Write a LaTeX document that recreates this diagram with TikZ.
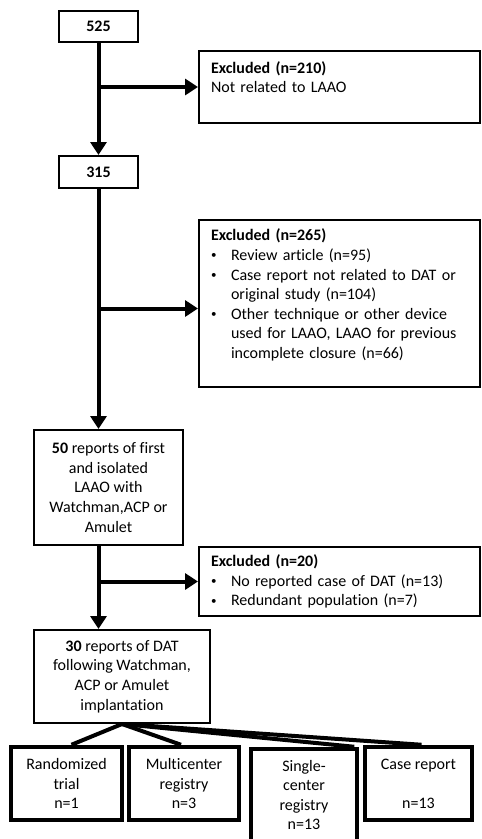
\documentclass[tikz,border=0pt]{standalone}
\usepackage{fontspec}
\setmainfont[Ligatures=NoCommon]{Carlito}
\usepackage{tikz}
\usetikzlibrary{arrows.meta,positioning,calc}
\newcommand{\boxfont}{\fontsize{16}{19.6}\selectfont}
\newcommand{\bul}{\makebox[20pt][l]{\raisebox{1.5pt}{\fontsize{11}{11}\selectfont\textbullet}}}
\newcommand{\bulind}{\hspace*{20pt}}
\tikzset{
  box/.style  ={rectangle, draw=black, line width=2pt, align=center,
                font=\boxfont, inner sep=0pt},
  excl/.style ={rectangle, draw=black, line width=2pt, align=left,
                font=\boxfont, inner xsep=12pt, inner ysep=0pt,
                text width=257pt, minimum width=281pt},
  leaf/.style ={rectangle, draw=black, line width=4.5pt, align=center,
                font=\boxfont, inner sep=0pt},
  fl/.style   ={-{Triangle[length=13pt,width=16pt]}, line width=4pt},
  fan/.style  ={line width=4pt},
}
\begin{document}
\begin{tikzpicture}[x=1pt,y=-1pt]
  \useasboundingbox (0,0) rectangle (482,839);
  % main column
  \node[box,minimum width=79pt,minimum height=31pt] (b525) at (98.5,26.5) {\textbf{525}};
  \node[box,minimum width=79pt,minimum height=32pt] (b315) at (98.5,172) {\textbf{315}};
  \node[box,minimum width=149pt,minimum height=115pt] (b50) at (108.5,487.5)
    {\textbf{50} reports of first\\and isolated\\LAAO with\\Watchman,ACP or\\Amulet};
  \node[box,minimum width=176pt,minimum height=93pt] (b30) at (122,676.5)
    {\textbf{30} reports of DAT\\following Watchman,\\ACP or Amulet\\implantation};
  \coordinate (trunk) at (b315.south);
  % excluded
  \node[excl,minimum height=72pt] (ex1) at (339.5,87)
    {\textbf{Excluded (n=210)}\\Not related to LAAO\\\mbox{}};
  \node[excl,minimum height=167pt] (ex2) at (339.5,303.5)
    {\textbf{Excluded (n=265)}\\
     \bul Review article (n=95)\\
     \bul Case report not related to DAT or\\
     \bulind original study (n=104)\\
     \bul Other technique or other device\\
     \bulind used for LAAO, LAAO for previous\\
     \bulind incomplete closure (n=66)\\\mbox{}};
  \node[excl,minimum height=69pt] (ex3) at (339.5,581.5)
    {\textbf{Excluded (n=20)}\\
     \bul No reported case of DAT (n=13)\\
     \bul Redundant population (n=7)};
  % study types
  \node[leaf,minimum width=111pt,minimum height=73pt] (rct) at (66.5,783.5) {Randomized\\trial\\n=1};
  \node[leaf,minimum width=110pt,minimum height=73pt] (multi) at (184,783.5) {Multicenter\\registry\\n=3};
  \node[leaf,minimum width=106pt,minimum height=92pt] (single) at (304,795) {Single-\\center\\registry\\n=13};
  \node[leaf,minimum width=107pt,minimum height=73pt] (case) at (418.5,783.5) {Case report\\\mbox{}\\n=13};
  % arrows
  \draw[fl] (b525) -- (b315);
  \draw[fl] (b525.south |- ex1.west) -- (ex1.west);
  \draw[fl] (b315.south) -- (trunk |- b50.north);
  \draw[fl] ([yshift=-5pt]trunk |- ex2.west) -- ([yshift=-5pt]ex2.west);
  \draw[fl] (trunk |- b50.south) -- (trunk |- b30.north);
  \draw[fl] (trunk |- ex3.west) -- (ex3.west);
  \draw[fan] (b30.south) -- ([xshift=5pt]rct.north);
  \draw[fan] (b30.south) -- ([xshift=-3pt]multi.north);
  \draw[fan] (b30.south) -- ([xshift=-5pt]single.north east);
  \draw[fan] (b30.south) -- ([xshift=3pt]case.north);
\end{tikzpicture}
\end{document}
